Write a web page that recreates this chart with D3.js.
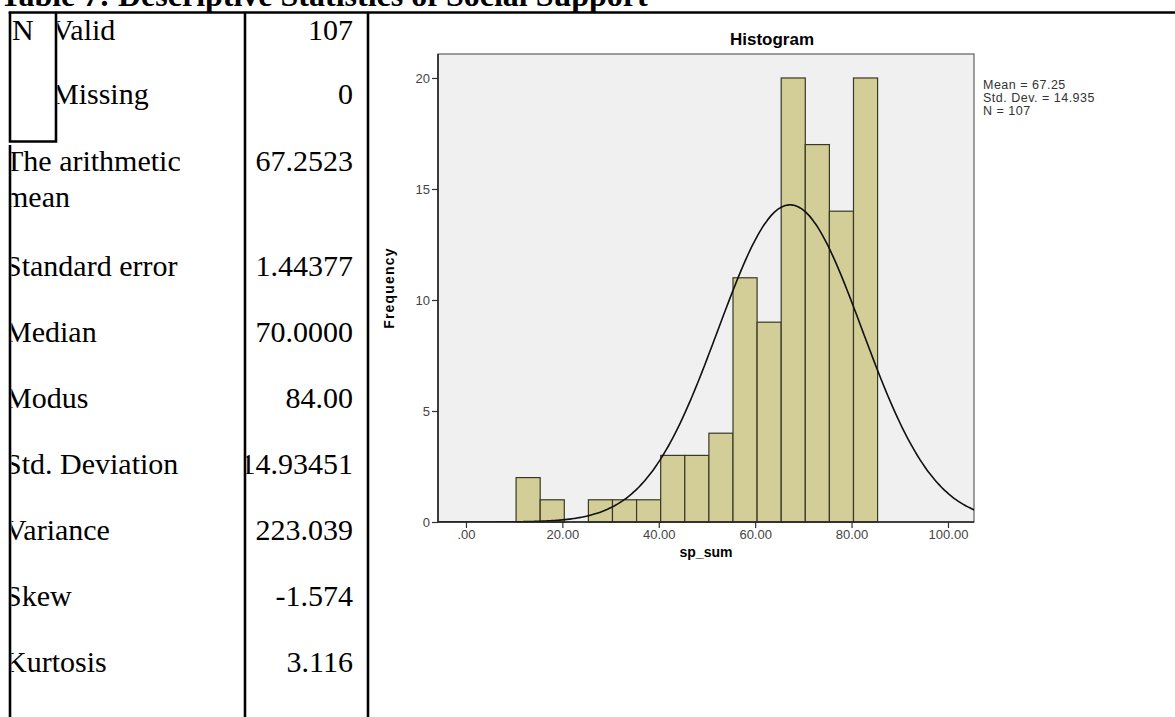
<!DOCTYPE html>
<html>
<head>
<meta charset="utf-8">
<script src="https://cdn.jsdelivr.net/npm/d3@7"></script>
<style>
  body { margin: 0; background: #fff; }
  svg { display: block; }
</style>
</head>
<body>
<div id="chart"></div>
<script>
// table data
var tableTitle = "Table 7: Descriptive Statistics of Social Support";
var statLabels = ["Valid", "Missing", "The arithmetic|mean", "Standard error", "Median", "Modus",
                  "Std. Deviation", "Variance", "Skew", "Kurtosis"];
var statValues = ["107", "0", "67.2523", "1.44377", "70.0000", "84.00",
                  "14.93451", "223.039", "-1.574", "3.116"];

// histogram data (sp_sum)
var binStarts = [10.4, 15.4, 20.4, 25.4, 30.4, 35.4, 40.4, 45.4, 50.4, 55.4, 60.4, 65.4, 70.4, 75.4, 80.4];
var binCounts = [2, 1, 0, 1, 1, 1, 3, 3, 4, 11, 9, 20, 17, 14, 20];
var binWidth = 5;
var xTicks = [0, 20, 40, 60, 80, 100];
var yTicks = [0, 5, 10, 15, 20];
var fitMean = 67.25, fitSd = 14.935, fitN = 107;
var legendLines = ["Mean = 67.25", "Std. Dev. = 14.935", "N = 107"];

var W = 1175, H = 717;
var svg = d3.select("#chart").append("svg").attr("width", W).attr("height", H);
var defs = svg.append("defs");

// ---------- table ----------
var serif = "'Liberation Serif', 'Times New Roman', serif";
var rowBase = [40, 104, 171, 276, 342, 408, 474, 540, 606, 672];

svg.append("text")
    .attr("x", 0).attr("y", 6)
    .attr("font-family", serif).attr("font-weight", "bold").attr("font-size", 32)
    .text(tableTitle);

defs.append("clipPath").attr("id", "clipLab").append("rect")
    .attr("x", 11.5).attr("y", 0).attr("width", 232).attr("height", H);
defs.append("clipPath").attr("id", "clipSub").append("rect")
    .attr("x", 57.5).attr("y", 0).attr("width", 186).attr("height", H);
defs.append("clipPath").attr("id", "clipVal").append("rect")
    .attr("x", 246.5).attr("y", 0).attr("width", 120).attr("height", H);

var labG = svg.append("g").attr("font-family", serif).attr("font-size", 30).attr("fill", "#000");

labG.append("text").attr("x", 12).attr("y", rowBase[0]).text("N");

statLabels.forEach(function (lab, i) {
    var sub = i < 2;
    var t = labG.append("text")
        .attr("clip-path", sub ? "url(#clipSub)" : "url(#clipLab)")
        .attr("x", sub ? 52 : 5)
        .attr("y", rowBase[i]);
    lab.split("|").forEach(function (part, j) {
        t.append("tspan").attr("x", sub ? 52 : 5).attr("dy", j === 0 ? 0 : 36).text(part);
    });
});

labG.selectAll("text.val")
    .data(statValues)
    .enter().append("text")
    .attr("class", "val")
    .attr("clip-path", "url(#clipVal)")
    .attr("x", 353)
    .attr("y", function (d, i) { return rowBase[i]; })
    .attr("text-anchor", "end")
    .text(function (d) { return d; });

var lines = svg.append("g").attr("stroke", "#000").attr("stroke-width", 2.6).attr("fill", "none");
lines.append("line").attr("x1", 8.7).attr("x2", W).attr("y1", 12.5).attr("y2", 12.5);
lines.append("path").attr("d", "M10,12 V141.5 H56 V12");
lines.append("line").attr("x1", 10).attr("x2", 10).attr("y1", 145).attr("y2", H);
lines.append("line").attr("x1", 245).attr("x2", 245).attr("y1", 12).attr("y2", H);
lines.append("line").attr("x1", 368).attr("x2", 368).attr("y1", 12).attr("y2", H);

// ---------- histogram ----------
var sans = "'Liberation Sans', Arial, sans-serif";
var pL = 438, pR = 974, pT = 54, pB = 522;

var x = d3.scaleLinear().domain([-5.8, 105.4]).range([pL, pR]);
var y = d3.scaleLinear().domain([0, 21.08]).range([pB, pT]);

svg.append("text")
    .attr("x", 772).attr("y", 45)
    .attr("text-anchor", "middle")
    .attr("font-family", sans).attr("font-weight", "bold").attr("font-size", 17)
    .text("Histogram");

svg.append("rect")
    .attr("x", pL).attr("y", pT).attr("width", pR - pL).attr("height", pB - pT)
    .attr("fill", "#f0f0f0").attr("stroke", "#606060").attr("stroke-width", 1.2);

defs.append("clipPath").attr("id", "clipPlot").append("rect")
    .attr("x", pL).attr("y", pT).attr("width", pR - pL).attr("height", pB - pT);

svg.append("g").selectAll("rect")
    .data(binCounts)
    .enter().append("rect")
    .attr("x", function (d, i) { return x(binStarts[i]); })
    .attr("width", function (d, i) { return x(binStarts[i] + binWidth) - x(binStarts[i]); })
    .attr("y", function (d) { return y(d); })
    .attr("height", function (d) { return y(0) - y(d); })
    .attr("fill", "#d3ce98")
    .attr("stroke", "#3a3826")
    .attr("stroke-width", 1.2);

// fitted normal curve scaled to counts
var curveX = d3.range(-6, 106.5, 0.5);
var scaleK = fitN * binWidth / (fitSd * Math.sqrt(2 * Math.PI));
svg.append("path")
    .datum(curveX)
    .attr("clip-path", "url(#clipPlot)")
    .attr("fill", "none").attr("stroke", "#111").attr("stroke-width", 1.6)
    .attr("d", d3.line()
        .x(function (d) { return x(d); })
        .y(function (d) { return y(scaleK * Math.exp(-0.5 * Math.pow((d - fitMean) / fitSd, 2))); })
        .curve(d3.curveBasis));

var yAxis = svg.append("g")
    .attr("transform", "translate(" + pL + ",0)")
    .call(d3.axisLeft(y).tickValues(yTicks).tickSize(6).tickPadding(2));
var xAxis = svg.append("g")
    .attr("transform", "translate(0," + pB + ")")
    .call(d3.axisBottom(x).tickValues(xTicks).tickSize(6).tickPadding(2)
        .tickFormat(function (d) { return d === 0 ? ".00" : d3.format(".2f")(d); }));
[yAxis, xAxis].forEach(function (g) {
    g.select(".domain").remove();
    g.selectAll(".tick line").attr("stroke", "#333").attr("stroke-width", 1.2);
    g.selectAll(".tick text").attr("font-family", sans).attr("font-size", 13).attr("fill", "#444");
});

// axis lines over the frame
svg.append("line").attr("x1", pL).attr("x2", pL).attr("y1", pT).attr("y2", pB)
    .attr("stroke", "#222").attr("stroke-width", 1.6);
svg.append("line").attr("x1", pL).attr("x2", pR).attr("y1", pB).attr("y2", pB)
    .attr("stroke", "#222").attr("stroke-width", 1.6);

svg.append("text")
    .attr("transform", "translate(394," + ((pT + pB) / 2) + ") rotate(-90)")
    .attr("text-anchor", "middle")
    .attr("font-family", sans).attr("font-weight", "bold").attr("font-size", 14)
    .attr("letter-spacing", 1.2)
    .text("Frequency");

svg.append("text")
    .attr("x", (pL + pR) / 2).attr("y", 557)
    .attr("text-anchor", "middle")
    .attr("font-family", sans).attr("font-weight", "bold").attr("font-size", 14)
    .text("sp_sum");

svg.append("g").selectAll("text")
    .data(legendLines)
    .enter().append("text")
    .attr("x", 983)
    .attr("y", function (d, i) { return 89 + i * 13; })
    .attr("font-family", sans).attr("font-size", 12.5).attr("letter-spacing", 0.5)
    .attr("fill", "#333")
    .text(function (d) { return d; });
</script>
</body>
</html>
